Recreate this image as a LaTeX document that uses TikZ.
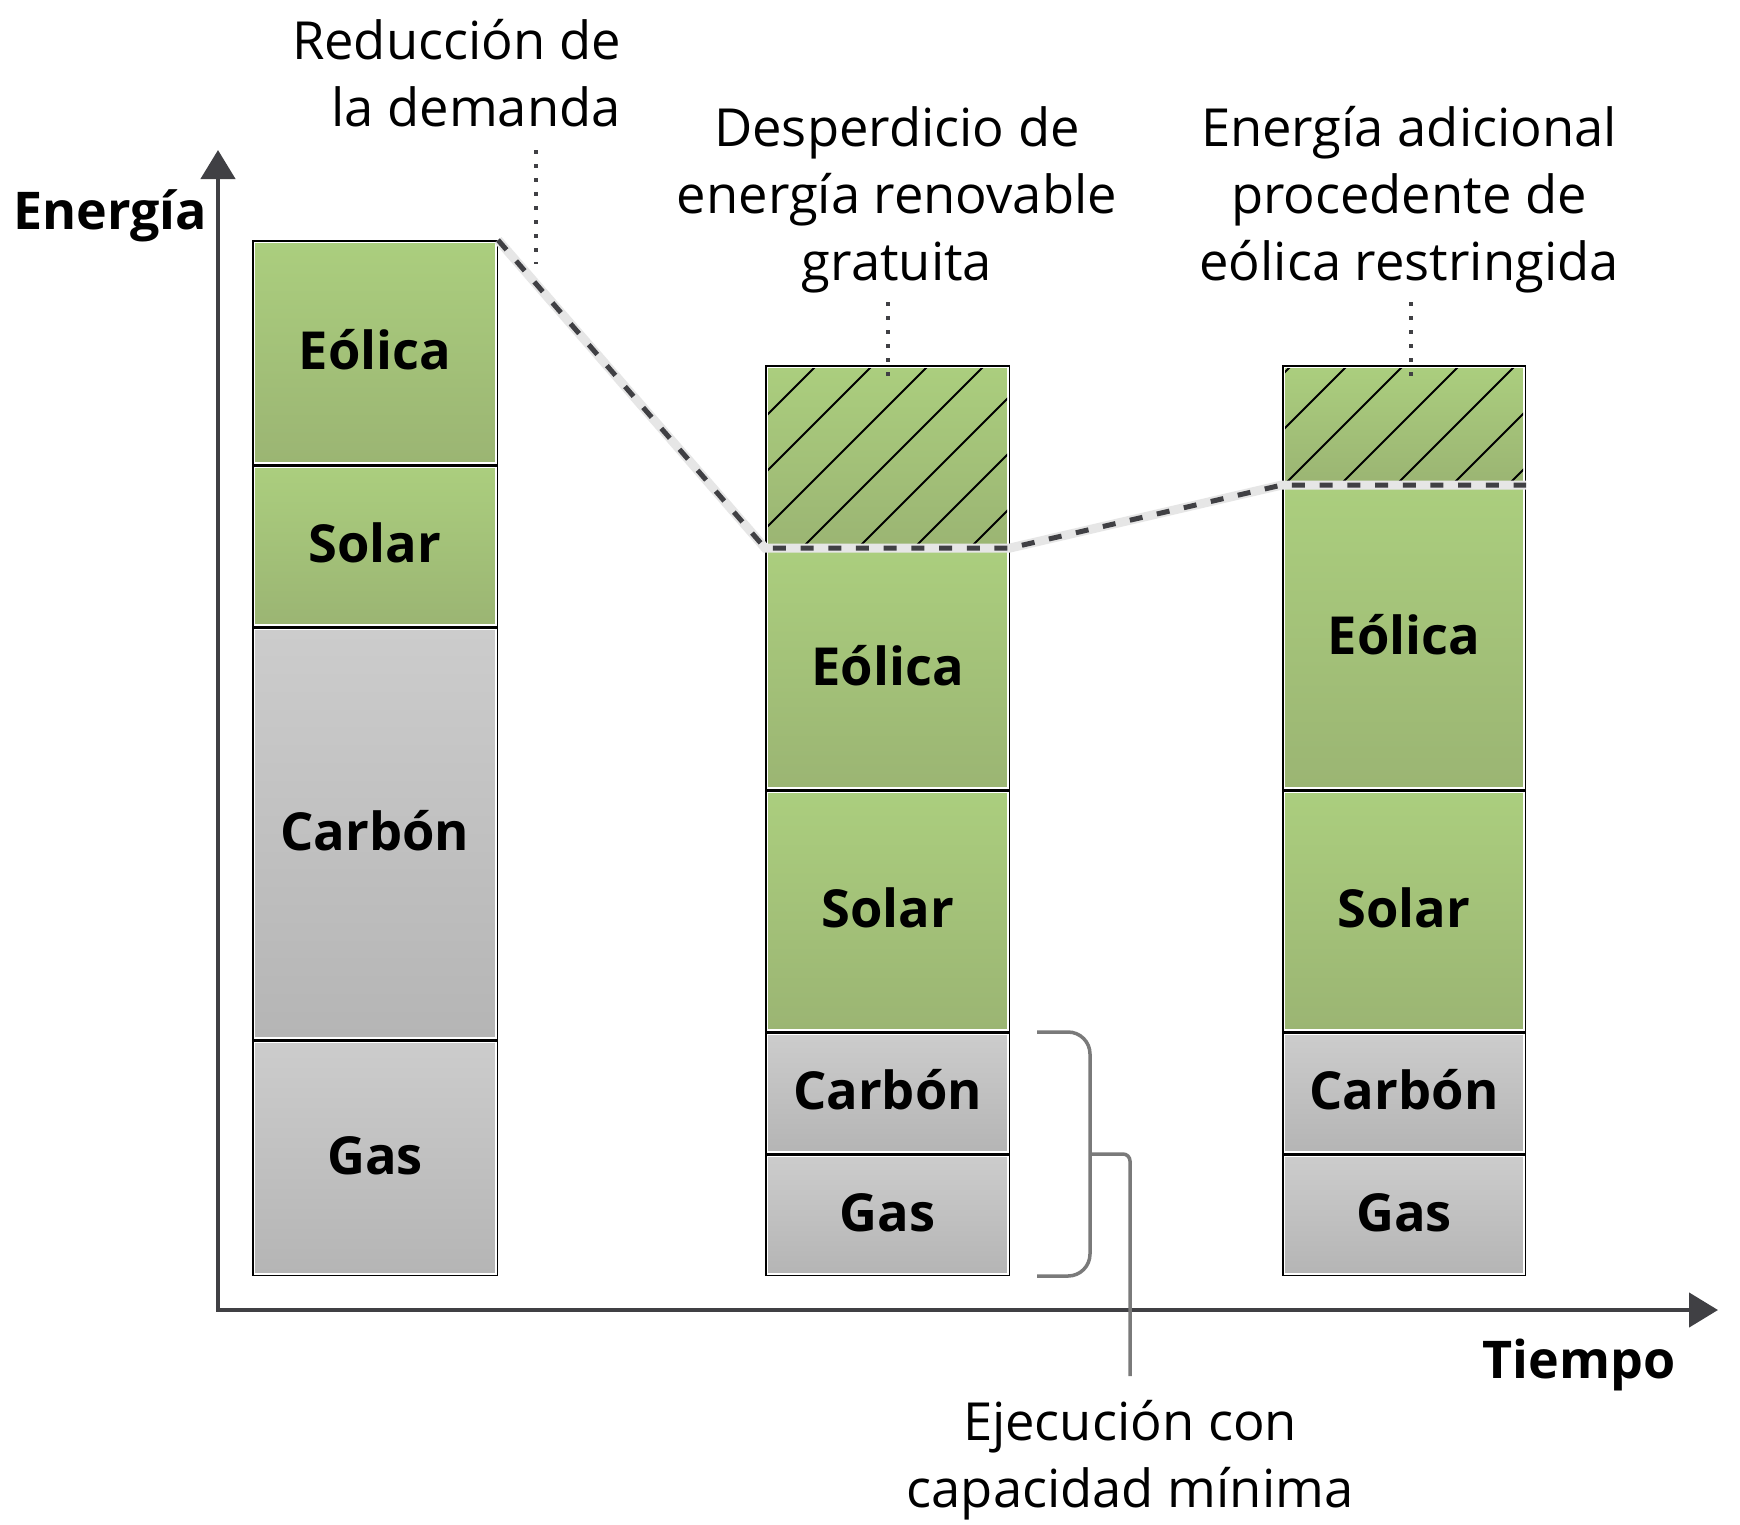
\documentclass[tikz,border=0pt]{standalone}
\usepackage{fontspec}
\setmainfont{Open Sans}
\usetikzlibrary{arrows.meta}
\definecolor{gtop}{RGB}{171,206,126}
\definecolor{gbot}{RGB}{155,181,115}
\definecolor{ytop}{RGB}{204,204,204}
\definecolor{ybot}{RGB}{181,181,181}
\definecolor{axisc}{RGB}{64,64,68}
\definecolor{brk}{RGB}{122,122,122}
\definecolor{lite}{RGB}{230,230,230}
\newcommand{\mkseg}[7]{%
  \node[segbase,#2,minimum width={#5-#3-4.5},minimum height={#6-#4-4.5}] (#1) at ({(#3+#5)/2},{(#4+#6)/2}) {#7};}
\begin{document}
\begin{tikzpicture}[x=1pt,y=-1pt,
  segbase/.style={inner sep=0pt,outer sep=0pt,draw=white,line width=1.5pt,
    preaction={draw=black,line width=4.5pt},
    font=\fontsize{52.4}{62}\selectfont\bfseries,text height=37.5pt,text depth=4.5pt},
  gfill/.style={top color=gtop,bottom color=gbot},
  yfill/.style={top color=ytop,bottom color=ybot},
  lbl/.style={font=\fontsize{52.5}{67}\selectfont,align=center,inner sep=0pt},
  axislbl/.style={font=\fontsize{52}{62}\selectfont\bfseries,inner sep=0pt,text height=37pt,text depth=0pt},
  leader/.style={draw=axisc,line width=4pt,dash pattern=on 4pt off 10pt},
  hatchline/.style={line width=2pt,draw=black},
  bracket/.style={draw=brk,line width=3.5pt},
  axis/.style={draw=axisc,line width=4.5pt,{Triangle[length=29pt,width=34pt]}-{Triangle[length=29pt,width=34pt]}},
]
\useasboundingbox[fill=white] (0,0) rectangle (1740,1524);

% axes
\coordinate (O) at (218,1310);
\coordinate (ytip) at (218,150);
\coordinate (xtip) at (1718,1310);
\draw[axis] (ytip) -- (O) -- (xtip);
\node[axislbl,anchor=west] (tener) at (13,211) {Energía};
\node[axislbl] (ttiem) at (1579,1360) {Tiempo};

% bar 1
\mkseg{b1e}{gfill}{252}{240}{498}{465}{Eólica}
\mkseg{b1s}{gfill}{252}{465}{498}{627}{Solar}
\mkseg{b1c}{yfill}{252}{627}{498}{1040}{Carbón}
\mkseg{b1g}{yfill}{252}{1040}{498}{1276}{Gas}

% bar 2
\mkseg{b2h}{gfill}{765}{365}{1010}{548}{}
\mkseg{b2e}{gfill}{765}{548}{1010}{790}{Eólica}
\mkseg{b2s}{gfill}{765}{790}{1010}{1032}{Solar}
\mkseg{b2c}{yfill}{765}{1032}{1010}{1154}{Carbón}
\mkseg{b2g}{yfill}{765}{1154}{1010}{1276}{Gas}

% bar 3
\mkseg{b3h}{gfill}{1282}{365}{1526}{485}{}
\mkseg{b3e}{gfill}{1282}{485}{1526}{790}{Eólica}
\mkseg{b3s}{gfill}{1282}{790}{1526}{1032}{Solar}
\mkseg{b3c}{yfill}{1282}{1032}{1526}{1154}{Carbón}
\mkseg{b3g}{yfill}{1282}{1154}{1526}{1276}{Gas}

% hatching
\begin{scope}
  \clip (768,368) rectangle (1007,545);
  \foreach \c in {1126,1182,...,1600} \draw[hatchline] ({\c-300},300) -- ({\c-600},600);
\end{scope}
\begin{scope}
  \clip (1285,368) rectangle (1523,482);
  \foreach \c in {1601,1657,...,2060} \draw[hatchline] ({\c-300},300) -- ({\c-600},600);
\end{scope}

% demand line
\coordinate (dl0) at (498,240);
\coordinate (dl1) at (765,548);
\coordinate (dl2) at (1010,548);
\coordinate (dl3) at (1282,485);
\coordinate (dl4) at (1526,485);
\draw[lite,line width=9pt] (dl0) -- (dl1) -- (dl2) -- (dl3) -- (dl4);
\draw[axisc,line width=5pt,dash pattern=on 13pt off 14.7pt] (dl0) -- (dl1) -- (dl2) -- (dl3) -- (dl4);

% texts
\node[lbl,anchor=east,align=right] (tred) at (621,73) {Reducción de\\la demanda};
\node[lbl] (twaste) at (897,200) {Desperdicio de\\energía renovable\\gratuita};
\node[lbl] (textra) at (1409,200) {Energía adicional\\procedente de\\eólica restringida};
\node[lbl] (tmin) at (1130,1460) {Ejecución con\\capacidad mínima};

% leaders
\coordinate (l1a) at (536,150);
\coordinate (l1b) at (536,264);
\coordinate (l2a) at (888,302);
\coordinate (l2b) at (888,377);
\coordinate (l3a) at (1411,302);
\coordinate (l3b) at (1411,377);
\draw[leader] (l1a) -- (l1b);
\draw[leader] (l2a) -- (l2b);
\draw[leader] (l3a) -- (l3b);

% bracket
\coordinate (br0) at (1037,1032);
\coordinate (br1) at (1090,1032);
\coordinate (br2) at (1090,1276);
\coordinate (br3) at (1037,1276);
\coordinate (bm0) at (1090,1154);
\coordinate (bm1) at (1130,1154);
\coordinate (bm2) at (1130,1376);
\draw[bracket,rounded corners=22pt] (br0) -- (br1) -- (br2) -- (br3);
\draw[bracket,rounded corners=7pt] (bm0) -- (bm1) -- (bm2);
\end{tikzpicture}
\end{document}
